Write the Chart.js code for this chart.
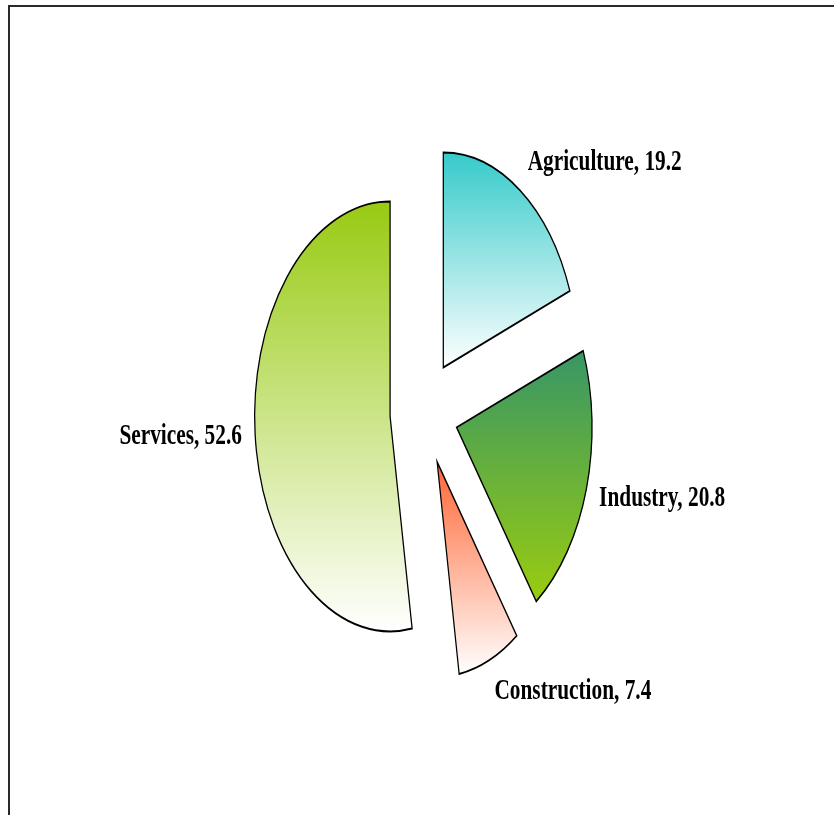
<!DOCTYPE html>
<html>
<head>
<meta charset="utf-8">
<style>
html,body{margin:0;padding:0;background:#fff;overflow:hidden}
#wrap{position:relative;width:834px;height:815px}
canvas{display:block}
</style>
<script src="https://cdn.jsdelivr.net/npm/chart.js@4"></script>
</head>
<body>
<div id="wrap"><canvas id="c" width="834" height="815"></canvas></div>
<script>
// ---- data ----
const categories = ['Agriculture', 'Industry', 'Construction', 'Services'];
const values = [19.2, 20.8, 7.4, 52.6];
const labelTexts = categories.map((c, i) => c + ', ' + values[i]);

// ---- style ----
const topColors = ['#36caca', '#379665', '#ff6633', '#98ca12'];
const bottomColors = ['#ffffff', '#9acc10', '#ffffff', '#ffffff'];
const SQUASH = 0.63;       // horizontal compression of the pie
const TEXT_SQUASH = 0.735; // horizontal compression of the label text
const EXPLODE = 54;
const RADIUS = 215;
const LABEL_RX = 290;
const LABEL_RY = 303;

const squashPie = {
  id: 'squashPie',
  beforeDraw(chart) {
    const ctx = chart.ctx;
    ctx.save();
    ctx.strokeStyle = '#2a2a2a';
    ctx.lineWidth = 2;
    ctx.beginPath();
    ctx.moveTo(9, 815);
    ctx.lineTo(9, 6);
    ctx.lineTo(834, 6);
    ctx.stroke();
    ctx.restore();
  },
  beforeDatasetDraw(chart, args) {
    const ctx = chart.ctx;
    args.meta.data.forEach((arc, i) => {
      const mid = (arc.startAngle + arc.endAngle) / 2;
      let minY = 0, maxY = 0;
      for (let t = 0; t <= 90; t++) {
        const a = arc.startAngle + (arc.endAngle - arc.startAngle) * t / 90;
        const y = Math.sin(a) * arc.outerRadius;
        minY = Math.min(minY, y);
        maxY = Math.max(maxY, y);
      }
      const g = ctx.createLinearGradient(0, arc.y + minY, 0, arc.y + maxY);
      g.addColorStop(0, topColors[i]);
      g.addColorStop(1, bottomColors[i]);
      const saved = arc.options;
      arc.options = Object.assign({}, saved, { backgroundColor: g, offset: 0 });
      ctx.save();
      ctx.translate(arc.x, arc.y);
      ctx.scale(SQUASH, 1);
      ctx.translate(Math.cos(mid) * EXPLODE, Math.sin(mid) * EXPLODE);
      ctx.translate(-arc.x, -arc.y);
      arc.draw(ctx);
      ctx.restore();
      arc.options = saved;
    });
    return false;
  },
  afterDatasetsDraw(chart) {
    const ctx = chart.ctx;
    const meta = chart.getDatasetMeta(0);
    meta.data.forEach((arc, i) => {
      const mid = (arc.startAngle + arc.endAngle) / 2;
      const c = Math.cos(mid), s = Math.sin(mid);
      const x = arc.x + SQUASH * c * LABEL_RX;
      const y = arc.y + s * LABEL_RY;
      ctx.save();
      ctx.translate(x, y);
      ctx.scale(TEXT_SQUASH, 1);
      ctx.font = 'bold 29px "Liberation Serif", "Times New Roman", serif';
      ctx.fillStyle = '#000';
      ctx.textBaseline = 'middle';
      ctx.textAlign = c >= 0 ? 'left' : 'right';
      ctx.fillText(labelTexts[i], 0, 0);
      ctx.restore();
    });
  }
};

new Chart(document.getElementById('c'), {
  type: 'pie',
  data: {
    labels: categories,
    datasets: [{
      data: values,
      backgroundColor: topColors,
      borderColor: '#000',
      borderWidth: 2,
      borderJoinStyle: 'miter'
    }]
  },
  options: {
    responsive: false,
    animation: false,
    events: [],
    radius: RADIUS,
    layout: { padding: { left: 14, right: 0, top: 9, bottom: 0 } },
    plugins: {
      legend: { display: false },
      tooltip: { enabled: false },
      title: { display: false }
    }
  },
  plugins: [squashPie]
});
</script>
</body>
</html>
